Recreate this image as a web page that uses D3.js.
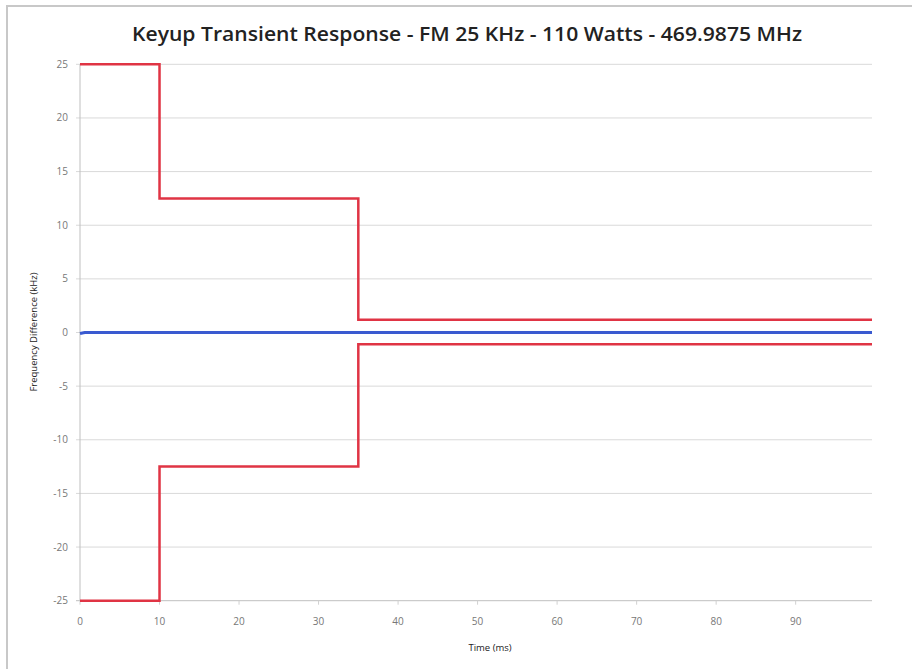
<!DOCTYPE html>
<html><head><meta charset="utf-8">
<script src="https://cdn.jsdelivr.net/npm/d3@7"></script>
<style>body{margin:0;background:#fff;}svg{display:block;}</style>
</head><body>
<svg id="chart" width="912" height="669"></svg>
<script>
const title = "Keyup Transient Response - FM 25 KHz - 110 Watts - 469.9875 MHz";
const xLabel = "Time (ms)";
const yLabel = "Frequency Difference (kHz)";
const xTicks = [0, 10, 20, 30, 40, 50, 60, 70, 80, 90];
const yTicks = [25, 20, 15, 10, 5, 0, -5, -10, -15, -20, -25];
// upper limit mask (time ms, kHz)
const upperTime = [0, 10, 10, 35, 35, 99.6];
const upperVal  = [25, 25, 12.5, 12.5, 1.2, 1.2];
// lower limit mask
const lowerTime = [0, 10, 10, 35, 35, 99.6];
const lowerVal  = [-25, -25, -12.5, -12.5, -1.1, -1.1];
// measured frequency difference
const measTime = [0, 0.6, 5, 20, 40, 60, 80, 99.6];
const measVal  = [-0.1, 0, 0, 0, 0, 0, 0, 0];

const svg = d3.select("#chart");

svg.append("rect").attr("x", 7).attr("y", 6).attr("width", 920).attr("height", 680)
  .attr("fill", "#fff").attr("stroke", "#c8c8c8").attr("stroke-width", 2);

const x = d3.scaleLinear().domain([0, 99.6]).range([80, 872]);
const y = d3.scaleLinear().domain([-25, 25]).range([600.7, 64.3]);

// horizontal grid
svg.append("g").selectAll("line").data(yTicks).join("line")
  .attr("x1", 76).attr("x2", x(99.6))
  .attr("y1", d => y(d)).attr("y2", d => y(d))
  .attr("stroke", d => d === -25 ? "#bfbfbf" : "#d9d9d9").attr("stroke-width", 1);

// y axis line
svg.append("line").attr("x1", x(0)).attr("x2", x(0)).attr("y1", y(25)).attr("y2", y(-25))
  .attr("stroke", "#bfbfbf").attr("stroke-width", 1);

// x tick marks
svg.append("g").selectAll("line").data(xTicks).join("line")
  .attr("x1", d => x(d)).attr("x2", d => x(d))
  .attr("y1", y(-25)).attr("y2", y(-25) + 4)
  .attr("stroke", "#d0d0d0");

// y tick labels
svg.append("g").selectAll("text").data(yTicks).join("text")
  .attr("x", 68).attr("y", d => y(d) + 3.5).attr("text-anchor", "end")
  .attr("font-family", "Open Sans, sans-serif").attr("font-size", 10).attr("fill", "#777")
  .text(d => d);

// x tick labels
svg.append("g").selectAll("text").data(xTicks).join("text")
  .attr("x", d => x(d)).attr("y", 625).attr("text-anchor", "middle")
  .attr("font-family", "Open Sans, sans-serif").attr("font-size", 10).attr("fill", "#777")
  .text(d => d);

const line = d3.line().x(d => x(d[0])).y(d => y(d[1]));

svg.append("path").datum(measTime.map((t, i) => [t, measVal[i]]))
  .attr("d", line).attr("fill", "none").attr("stroke", "#3a5ad0").attr("stroke-width", 3);

svg.append("path").datum(upperTime.map((t, i) => [t, upperVal[i]]))
  .attr("d", line).attr("fill", "none").attr("stroke", "#e03444").attr("stroke-width", 2.5);
svg.append("path").datum(lowerTime.map((t, i) => [t, lowerVal[i]]))
  .attr("d", line).attr("fill", "none").attr("stroke", "#e03444").attr("stroke-width", 2.5);

// title
svg.append("text").attr("x", 467).attr("y", 41).attr("text-anchor", "middle")
  .attr("font-family", "Open Sans, sans-serif").attr("font-weight", 600)
  .attr("font-size", 19).attr("fill", "#222").attr("textLength", 670).attr("lengthAdjust", "spacingAndGlyphs")
  .text(title);

// axis titles
svg.append("text").attr("x", 490).attr("y", 651).attr("text-anchor", "middle")
  .attr("font-family", "Open Sans, sans-serif").attr("font-size", 9.5).attr("fill", "#222")
  .text(xLabel);

svg.append("text").attr("transform", `translate(37,${332}) rotate(-90)`).attr("text-anchor", "middle")
  .attr("font-family", "Open Sans, sans-serif").attr("font-size", 9.5).attr("fill", "#222")
  .text(yLabel);
</script>
</body></html>
